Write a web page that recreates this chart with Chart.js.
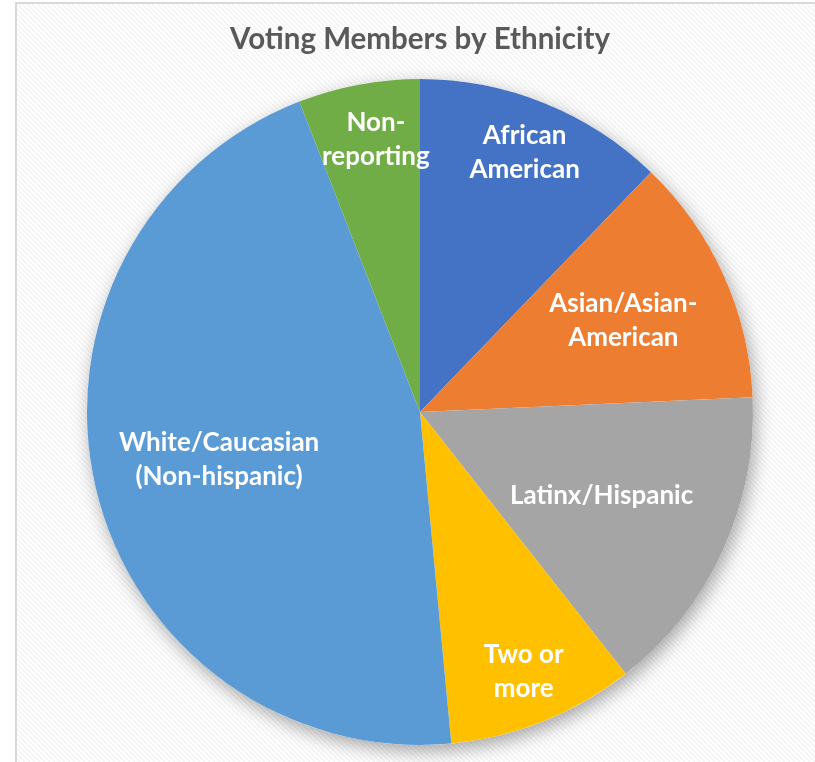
<!DOCTYPE html>
<html><head><meta charset="utf-8">
<script src="https://cdn.jsdelivr.net/npm/chart.js@4/dist/chart.umd.min.js"></script>
<style>html,body{margin:0;padding:0;background:#fff;} canvas{display:block;}</style>
</head><body><canvas id="c" width="815" height="762"></canvas>
<script>
const categories = ["African American","Asian/Asian-American","Latinx/Hispanic","Two or more","White/Caucasian (Non-hispanic)","Non-reporting"];
const labelLines = [["African","American"],["Asian/Asian-","American"],["Latinx/Hispanic"],["Two or","more"],["White/Caucasian","(Non-hispanic)"],["Non-","reporting"]];
const shares = [12.2,12.1,15.1,9.1,45.6,5.9];
const colors = ["#4472C4","#ED7D31","#A5A5A5","#FFC000","#5B9BD5","#70AD47"];
const labelRadius = [0.84,0.67,0.6,0.84,0.62,0.83];
const labelAngleShift = [0,0,0,0,0,0.025];
const FONT = "Lato, 'Open Sans', sans-serif";

const bgPlugin = {
  id:'bg',
  beforeDraw(chart){
    const ctx=chart.ctx, w=chart.width, h=chart.height, fx=16, fy=3;
    ctx.save();
    ctx.fillStyle='#fff'; ctx.fillRect(0,0,w,h);
    ctx.beginPath(); ctx.rect(fx,fy,w-fx,h-fy); ctx.clip();
    ctx.strokeStyle='rgba(0,0,0,0.05)'; ctx.lineWidth=1.4;
    ctx.beginPath();
    for(let k=-h;k<w+h;k+=5){ctx.moveTo(k,0);ctx.lineTo(k+h,h);}
    ctx.stroke();
    ctx.restore();
    ctx.save();
    ctx.strokeStyle='#d9d9d9'; ctx.lineWidth=2;
    ctx.beginPath(); ctx.moveTo(fx,h); ctx.lineTo(fx,fy); ctx.lineTo(w,fy); ctx.stroke();
    ctx.restore();
  },
  beforeDatasetsDraw(chart){
    const a=chart.getDatasetMeta(0).data[0]; if(!a) return;
    const ctx=chart.ctx;
    ctx.save();
    ctx.shadowColor='rgba(0,0,0,0.35)'; ctx.shadowBlur=18; ctx.shadowOffsetX=3; ctx.shadowOffsetY=6;
    ctx.fillStyle='#fff'; ctx.beginPath(); ctx.arc(a.x,a.y,a.outerRadius,0,Math.PI*2); ctx.fill();
    ctx.restore();
  },
  afterDatasetsDraw(chart){
    const ctx=chart.ctx;
    ctx.save();
    ctx.fillStyle='#fff'; ctx.font="bold 26px "+FONT; ctx.textAlign='center'; ctx.textBaseline='middle';
    chart.getDatasetMeta(0).data.forEach((arc,i)=>{
      const p=arc.getProps(['startAngle','endAngle','outerRadius','x','y'],true);
      const mid=(p.startAngle+p.endAngle)/2+labelAngleShift[i];
      const r=p.outerRadius*labelRadius[i];
      const cx=p.x+Math.cos(mid)*r, cy=p.y+Math.sin(mid)*r;
      const lines=labelLines[i], lh=34;
      lines.forEach((t,j)=>ctx.fillText(t,cx,cy+(j-(lines.length-1)/2)*lh));
    });
    ctx.restore();
  }
};

new Chart(document.getElementById('c'),{
  type:'pie',
  data:{labels:categories,datasets:[{data:shares,backgroundColor:colors,borderWidth:0}]},
  options:{
    responsive:false, animation:false,
    layout:{padding:{left:25,right:0,top:0,bottom:17}},
    plugins:{
      legend:{display:false}, tooltip:{enabled:false},
      title:{display:true,text:'Voting Members by Ethnicity',color:'#595959',
        font:{family:FONT,size:29.5,weight:'bold',lineHeight:1.2},padding:{top:22,bottom:21.6}}
    }
  },
  plugins:[bgPlugin]
});
</script></body></html>
